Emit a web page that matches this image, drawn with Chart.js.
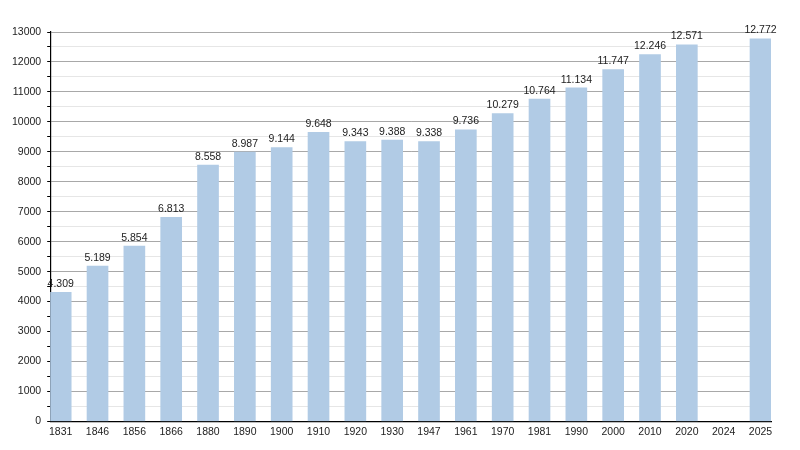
<!DOCTYPE html>
<html>
<head>
<meta charset="utf-8">
<script src="https://cdn.jsdelivr.net/npm/chart.js@4/dist/chart.umd.min.js"></script>
<style>
  html, body { margin: 0; padding: 0; background: #fff; }
  #wrap { width: 800px; height: 450px; }
</style>
</head>
<body>
<div id="wrap"><canvas id="popChart"></canvas></div>
<script>
// Jahre (Kategorien) und Einwohnerzahlen
const years = ["1831", "1846", "1856", "1866", "1880", "1890", "1900", "1910", "1920", "1930",
               "1947", "1961", "1970", "1981", "1990", "2000", "2010", "2020", "2024", "2025"];
const population = [4309, 5189, 5854, 6813, 8558, 8987, 9144, 9648, 9343, 9388,
                    9338, 9736, 10279, 10764, 11134, 11747, 12246, 12571, null, 12772];
const yMax = 13000;
const yStep = 500;

const FONT = "'Liberation Sans', Arial, sans-serif";

// Zahlen mit Punkt als Tausendertrennzeichen
function fmt(v) {
    return String(v).replace(/\B(?=(\d{3})+(?!\d))/g, ".");
}

// Werte über den Balken schreiben
const valueLabels = {
    id: "valueLabels",
    afterDatasetsDraw(chart) {
        const ctx = chart.ctx;
        const meta = chart.getDatasetMeta(0);
        ctx.save();
        ctx.font = "10.5px " + FONT;
        ctx.fillStyle = "#222";
        ctx.textAlign = "center";
        ctx.textBaseline = "bottom";
        meta.data.forEach((bar, i) => {
            const v = population[i];
            if (v == null) return;
            ctx.fillText(fmt(v), bar.x, bar.y - 3);
        });
        ctx.restore();
    }
};

new Chart(document.getElementById("popChart"), {
    type: "bar",
    data: {
        datasets: [{
            data: population.map((v, i) => ({ x: i, y: v })),
            backgroundColor: "#b1cbe5",
            borderWidth: 0,
            barThickness: 21
        }]
    },
    options: {
        responsive: true,
        maintainAspectRatio: false,
        animation: false,
        layout: { padding: { top: 32, right: 29, left: 6, bottom: 8 } },
        plugins: {
            legend: { display: false },
            tooltip: { enabled: false }
        },
        scales: {
            x: {
                type: "linear",
                offset: false,
                min: -0.285,
                max: years.length - 1 + 0.285,
                grid: { display: false, drawTicks: false },
                border: { color: "#000", width: 1.2 },
                ticks: {
                    stepSize: 1,
                    includeBounds: false,
                    autoSkip: false,
                    maxRotation: 0,
                    padding: 4,
                    color: "#222",
                    font: { family: FONT, size: 10.5 },
                    callback: v => years[v] ?? ""
                }
            },
            y: {
                min: 0,
                max: yMax,
                border: { color: "#000", width: 1.2 },
                grid: {
                    color: c => (c.tick.value % 1000 ? "#e6e6e6" : "#a8a8a8"),
                    tickColor: "#000",
                    tickLength: 3
                },
                ticks: {
                    stepSize: yStep,
                    autoSkip: false,
                    padding: 6,
                    color: "#222",
                    font: { family: FONT, size: 10.5 },
                    callback: v => (v % 1000 === 0 ? String(v) : "")
                }
            }
        }
    },
    plugins: [valueLabels]
});
</script>
</body>
</html>
